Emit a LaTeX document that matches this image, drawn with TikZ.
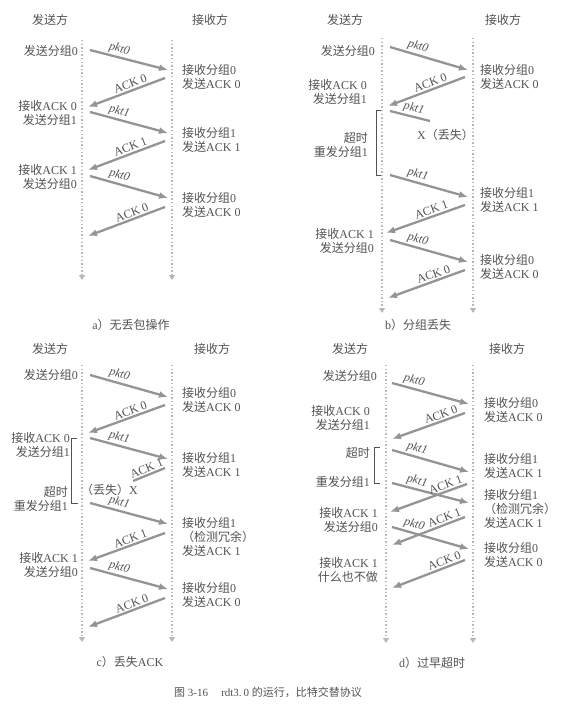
\documentclass[tikz,border=0pt]{standalone}
\usepackage{fontspec}
\setmainfont{Liberation Serif}
\newfontfamily\cjk{Noto Sans CJK SC}
\usetikzlibrary{arrows.meta}
\newcommand\zh[1]{{\cjk #1}}
\definecolor{txt}{gray}{0.32}
\definecolor{arr}{gray}{0.58}
\definecolor{life}{gray}{0.72}
\newcommand\amsg[7]{%
  \coordinate (#1s) at #2; \coordinate (#1e) at #3;
  \draw[msg,#7] (#1s) -- node[sloped,above=1.5pt,pos=#5,#6]{#4} (#1e);}
\newcommand\life[4]{%
  \coordinate (#1t) at (#2,#3); \coordinate (#1b) at (#2,#4);
  \draw[lifeline] (#1t) -- (#1b);}
\begin{document}
\begin{tikzpicture}[x=1pt,y=-1pt,
  every node/.style={inner sep=0pt, text=txt, font=\fontsize{12}{14}\selectfont},
  msg/.style={draw=arr, line width=2.3pt, -{Latex[length=9pt,width=7pt]}},
  lifeline/.style={draw=life, line width=1.3pt, dash pattern=on 1.3pt off 2.3pt, -{Triangle[length=5pt,width=6pt]}},
  pk/.style={font=\fontsize{12}{12}\selectfont\itshape},
  ak/.style={font=\fontsize{12}{12}\selectfont},
  snd/.style={anchor=east, align=right},
  rcv/.style={anchor=west, align=left},
  brk/.style={draw=txt, line width=0.6pt},
  sub/.style={font=\fontsize{12}{14}\selectfont}]
\useasboundingbox (0,0) rectangle (561,704);

% ================= panel a =================
\node (aS) at (50,20) {\zh{发送方}};
\node (aR) at (210,20) {\zh{接收方}};
\life{aLs}{82}{40}{280}
\life{aLr}{172}{40}{280}
\amsg{a1}{(90,50)}{(168,70)}{pkt0}{0.35}{pk}{}
\amsg{a2}{(165,78)}{(88,107)}{ACK 0}{0.42}{ak}{}
\amsg{a3}{(90,112)}{(168,133)}{pkt1}{0.35}{pk}{}
\amsg{a4}{(165,141)}{(88,170)}{ACK 1}{0.42}{ak}{}
\amsg{a5}{(90,176)}{(168,198)}{pkt0}{0.35}{pk}{}
\amsg{a6}{(165,207)}{(88,236)}{ACK 0}{0.4}{ak}{}
\node[snd] (at1) at (78,51) {\zh{发送分组}0};
\node[rcv] (at2) at (182,77) {\zh{接收分组}0\\\zh{发送}ACK 0};
\node[snd] (at3) at (77,113) {\zh{接收}ACK 0\\\zh{发送分组}1};
\node[rcv] (at4) at (182,140) {\zh{接收分组}1\\\zh{发送}ACK 1};
\node[snd] (at5) at (77,177) {\zh{接收}ACK 1\\\zh{发送分组}0};
\node[rcv] (at6) at (182,205) {\zh{接收分组}0\\\zh{发送}ACK 0};
\node[sub] (acap) at (131,325) {a\zh{）无丢包操作}};

% ================= panel b =================
\node (bS) at (345,20) {\zh{发送方}};
\node (bR) at (503,20) {\zh{接收方}};
\life{bLs}{382}{38}{313}
\life{bLr}{473}{38}{313}
\amsg{b1}{(390,47)}{(468,70)}{pkt0}{0.33}{pk}{}
\amsg{b2}{(465,77)}{(388,106)}{ACK 0}{0.42}{ak}{}
\amsg{b3}{(390,111)}{(430,121)}{pkt1}{0.55}{pk}{-}
\node[anchor=west] (bX) at (417,135) {X\zh{（丢失）}};
\coordinate (bBt) at (381,110); \coordinate (bBb) at (381,175);
\draw[brk] (bBt) -- ++(-5,0) |- (bBb);
\node[snd] (bto) at (368,145) {\zh{超时}\\\zh{重发分组}1};
\amsg{b4}{(390,175)}{(468,197)}{pkt1}{0.33}{pk}{}
\amsg{b5}{(465,205)}{(386,233)}{ACK 1}{0.4}{ak}{}
\amsg{b6}{(390,240)}{(468,262)}{pkt0}{0.33}{pk}{}
\amsg{b7}{(465,270)}{(388,298)}{ACK 0}{0.38}{ak}{}
\node[snd] (bt1) at (375,51) {\zh{发送分组}0};
\node[rcv] (bt2) at (480,77) {\zh{接收分组}0\\\zh{发送}ACK 0};
\node[snd] (bt3) at (367,92) {\zh{接收}ACK 0\\\zh{发送分组}1};
\node[rcv] (bt4) at (480,200) {\zh{接收分组}1\\\zh{发送}ACK 1};
\node[snd] (bt5) at (374,241) {\zh{接收}ACK 1\\\zh{发送分组}0};
\node[rcv] (bt6) at (480,267) {\zh{接收分组}0\\\zh{发送}ACK 0};
\node[sub] (bcap) at (418,325) {b\zh{）分组丢失}};

% ================= panel c =================
\node (cS) at (50,349) {\zh{发送方}};
\node (cR) at (212,349) {\zh{接收方}};
\life{cLs}{82}{365}{642}
\life{cLr}{172}{365}{642}
\amsg{c1}{(90,375)}{(168,397)}{pkt0}{0.35}{pk}{}
\amsg{c2}{(165,405)}{(88,433)}{ACK 0}{0.42}{ak}{}
\amsg{c3}{(90,438)}{(168,459)}{pkt1}{0.35}{pk}{}
\amsg{c4}{(165,468)}{(133,481)}{ACK 1}{0.5}{ak}{-}
\node[anchor=east] (cX) at (138,490) {\zh{（丢失）}X};
\coordinate (cBt) at (71,438); \coordinate (cBb) at (78,503);
\draw[brk] (cBt) -- ++(6,0) (cBt) |- (cBb);
\node[snd] (cto) at (68,498.5) {\zh{超时}\\\zh{重发分组}1};
\amsg{c5}{(90,503)}{(168,524)}{pkt1}{0.35}{pk}{}
\amsg{c6}{(165,533)}{(88,561)}{ACK 1}{0.42}{ak}{}
\amsg{c7}{(90,568)}{(168,589)}{pkt0}{0.35}{pk}{}
\amsg{c8}{(165,598)}{(88,627)}{ACK 0}{0.4}{ak}{}
\node[snd] (ct1) at (78,375) {\zh{发送分组}0};
\node[rcv] (ct2) at (182,400) {\zh{接收分组}0\\\zh{发送}ACK 0};
\node[snd] (ct3) at (70,445) {\zh{接收}ACK 0\\\zh{发送分组}1};
\node[rcv] (ct4) at (182,465) {\zh{接收分组}1\\\zh{发送}ACK 1};
\node[rcv] (ct5) at (182,537) {\zh{接收分组}1\\\zh{（检测冗余）}\\\zh{发送}ACK 1};
\node[snd] (ct6) at (78,565) {\zh{接收}ACK 1\\\zh{发送分组}0};
\node[rcv] (ct7) at (182,595) {\zh{接收分组}0\\\zh{发送}ACK 0};
\node[sub] (ccap) at (130,662) {c\zh{）丢失}ACK};

% ================= panel d =================
\node (dS) at (350,349) {\zh{发送方}};
\node (dR) at (507,349) {\zh{接收方}};
\life{dLs}{386}{365}{643}
\life{dLr}{473}{365}{643}
\amsg{d1}{(392,383)}{(469,404)}{pkt0}{0.26}{pk}{}
\amsg{d2}{(465,413)}{(392,439)}{ACK 0}{0.3}{ak}{}
\amsg{d3}{(392,450)}{(469,472)}{pkt1}{0.3}{pk}{}
\amsg{d4}{(392,483)}{(469,503)}{pkt1}{0.3}{pk}{}
\amsg{d5}{(467,484)}{(390,512)}{ACK 1}{0.25}{ak}{}
\amsg{d6}{(392,527)}{(469,549)}{pkt0}{0.26}{pk}{}
\amsg{d7}{(465,517)}{(392,545)}{ACK 1}{0.25}{ak}{}
\amsg{d8}{(465,560)}{(392,588)}{ACK 0}{0.25}{ak}{}
\coordinate (dBt) at (380,447); \coordinate (dBb) at (380,483);
\draw[brk] (dBt) -- ++(-5.5,0) |- (dBb);
\node[snd] (dt0) at (377,376) {\zh{发送分组}0};
\node[snd] (dt1) at (370,418) {\zh{接收}ACK 0\\\zh{发送分组}1};
\node[snd] (dt2) at (370,453) {\zh{超时}};
\node[snd] (dt3) at (370,482) {\zh{重发分组}1};
\node[rcv] (dt4) at (484,410) {\zh{接收分组}0\\\zh{发送}ACK 0};
\node[rcv] (dt5) at (484,466) {\zh{接收分组}1\\\zh{发送}ACK 1};
\node[rcv] (dt6) at (484,509) {\zh{接收分组}1\\\zh{（检测冗余）}\\\zh{发送}ACK 1};
\node[rcv] (dt7) at (484,555) {\zh{接收分组}0\\\zh{发送}ACK 0};
\node[snd] (dt8) at (378,520) {\zh{接收}ACK 1\\\zh{发送分组}0};
\node[snd] (dt9) at (378,570) {\zh{接收}ACK 1\\\zh{什么也不做}};
\node[sub] (dcap) at (432,663) {d\zh{）过早超时}};

% ================= caption =================
\node[font=\fontsize{11}{13}\selectfont] (fig) at (268,692) {\zh{图} 3-16\hspace{1.2em}rdt3.\,0 \zh{的运行，比特交替协议}};
\end{tikzpicture}
\end{document}
